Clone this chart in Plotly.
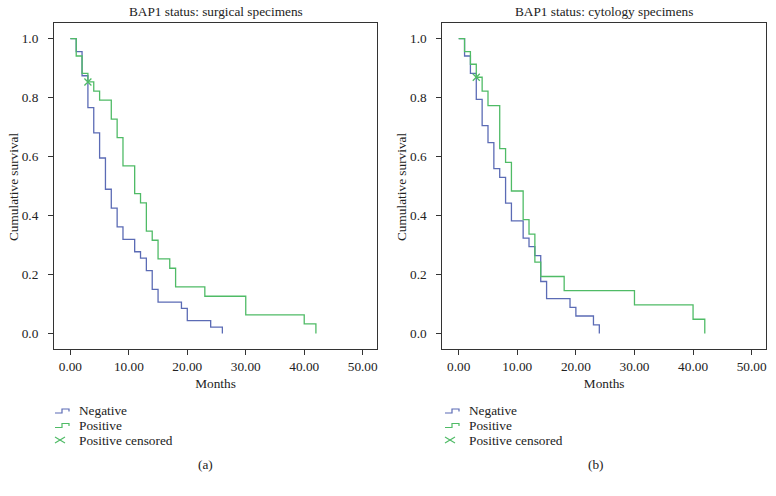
import plotly.graph_objects as go

# Panel (a): surgical specimens
a_neg_months = [0, 1, 2, 3, 4, 5, 6, 7, 8, 9, 11, 12, 13, 14, 15, 19, 20, 24, 26]
a_neg_surv = [1.0, 0.956, 0.874, 0.766, 0.680, 0.595, 0.489, 0.425, 0.361, 0.319,
              0.277, 0.255, 0.213, 0.149, 0.106, 0.085, 0.043, 0.021, 0.0]
a_pos_months = [0, 1, 2, 3, 4, 5, 7, 8, 9, 11, 12, 13, 14, 15, 17, 18, 23, 30, 40, 42]
a_pos_surv = [1.0, 0.941, 0.882, 0.853, 0.822, 0.791, 0.727, 0.664, 0.568, 0.474,
              0.443, 0.347, 0.316, 0.253, 0.221, 0.158, 0.126, 0.063, 0.032, 0.0]
a_cens_months = [3]
a_cens_surv = [0.853]

# Panel (b): cytology specimens
b_neg_months = [0, 1, 2, 3, 4, 5, 6, 7, 8, 9, 11, 12, 13, 14, 15, 19, 20, 23, 24]
b_neg_surv = [1.0, 0.941, 0.882, 0.794, 0.705, 0.647, 0.559, 0.529, 0.442, 0.382,
              0.323, 0.294, 0.264, 0.176, 0.118, 0.088, 0.059, 0.029, 0.0]
b_pos_months = [0, 1, 2, 3, 4, 5, 7, 8, 9, 11, 12, 13, 14, 18, 30, 40, 42]
b_pos_surv = [1.0, 0.956, 0.913, 0.869, 0.822, 0.773, 0.627, 0.580, 0.483, 0.386,
              0.337, 0.242, 0.193, 0.145, 0.097, 0.048, 0.0]
b_cens_months = [3]
b_cens_surv = [0.869]

x_ticks = [0, 10, 20, 30, 40, 50]
y_ticks = [0.0, 0.2, 0.4, 0.6, 0.8, 1.0]
titles = ["BAP1 status: surgical specimens", "BAP1 status: cytology specimens"]
panel_labels = ["(a)", "(b)"]
legend_names = ["Negative", "Positive", "Positive censored"]
y_title = "Cumulative survival"

BLUE = "#5b6bb5"
GREEN = "#4fbb66"
FONT = "Liberation Serif"
FS = 13.3
AX = "#333333"
TXT = "#222222"
W, H = 776, 496


def px(x):
    return x / W


def py(y):
    return 1 - y / H


fig = go.Figure()

panels = [
    (a_neg_months, a_neg_surv, a_pos_months, a_pos_surv, a_cens_months, a_cens_surv, "x", "y"),
    (b_neg_months, b_neg_surv, b_pos_months, b_pos_surv, b_cens_months, b_cens_surv, "x2", "y2"),
]
for nm, ns, pm, ps, cm, cs, xa, ya in panels:
    fig.add_trace(go.Scatter(x=nm, y=ns, mode="lines", line=dict(color=BLUE, width=1.3, shape="hv"),
                             name=legend_names[0], xaxis=xa, yaxis=ya, showlegend=False))
    fig.add_trace(go.Scatter(x=pm, y=ps, mode="lines", line=dict(color=GREEN, width=1.3, shape="hv"),
                             name=legend_names[1], xaxis=xa, yaxis=ya, showlegend=False))
    fig.add_trace(go.Scatter(x=cm, y=cs, mode="markers",
                             marker=dict(symbol="x-thin-open", size=7, color=GREEN,
                                         line=dict(color=GREEN, width=1.3)),
                             name=legend_names[2], xaxis=xa, yaxis=ya, showlegend=False))

xcommon = dict(range=[-2.8, 52.45], tickvals=x_ticks, tickformat=".2f", ticks="outside", ticklen=5,
               tickcolor=AX, showline=True, linecolor=AX, linewidth=1, mirror=True, showgrid=False,
               zeroline=False, automargin=False, tickfont=dict(family=FONT, size=FS, color=TXT),
               title=dict(text="Months", font=dict(family=FONT, size=FS, color=TXT), standoff=5))
ycommon = dict(range=[-0.054, 1.054], tickvals=y_ticks, tickformat=".1f", ticks="outside", ticklen=5,
               tickcolor=AX, showline=True, linecolor=AX, linewidth=1, mirror=True, showgrid=False,
               zeroline=False, automargin=False, tickfont=dict(family=FONT, size=FS, color=TXT),
               ticklabelstandoff=7)

fig.update_layout(
    width=W, height=H, margin=dict(l=0, r=0, t=0, b=0, autoexpand=False),
    paper_bgcolor="white", plot_bgcolor="white",
    font=dict(family=FONT, size=FS, color=TXT),
    xaxis=dict(domain=[px(54), px(377)], anchor="y", **xcommon),
    yaxis=dict(domain=[py(349.3), py(22.7)], anchor="x", **ycommon),
    xaxis2=dict(domain=[px(442.3), px(766)], anchor="y2", **xcommon),
    yaxis2=dict(domain=[py(349.3), py(22.7)], anchor="x2", **ycommon),
    showlegend=False,
)

# titles, y-axis titles and panel labels
for i, dx in enumerate([0, 388]):
    fig.add_annotation(text=titles[i], x=px(216 + dx), y=py(12), xref="paper", yref="paper",
                       showarrow=False, xanchor="center", yanchor="middle",
                       font=dict(family=FONT, size=FS, color=TXT))
    fig.add_annotation(text=y_title, x=px(14 + dx), y=py(187), xref="paper", yref="paper",
                       showarrow=False, xanchor="center", yanchor="middle", textangle=-90,
                       font=dict(family=FONT, size=FS, color=TXT))
    fig.add_annotation(text=panel_labels[i], x=px(205 + dx + (3 if i else 0)), y=py(464),
                       xref="paper", yref="paper", showarrow=False, xanchor="center", yanchor="middle",
                       font=dict(family=FONT, size=FS, color=TXT))

# manual legends (step glyphs, censor cross)
rows = [410.5, 425, 440]
for dx in [0, 390]:
    x0 = 55 + dx
    for r, (name, col) in enumerate(zip(legend_names[:2], [BLUE, GREEN])):
        yc = rows[r]
        path = (f"M{px(x0)},{py(yc + 2.5)} L{px(x0 + 7)},{py(yc + 2.5)} L{px(x0 + 7)},{py(yc - 1.5)} "
                f"L{px(x0 + 14)},{py(yc - 1.5)} L{px(x0 + 14)},{py(yc + 1)}")
        fig.add_shape(type="path", path=path, xref="paper", yref="paper",
                      line=dict(color=col, width=1.2))
    yc = rows[2]
    for (ya_, yb_) in [(yc - 3, yc + 3), (yc + 3, yc - 3)]:
        fig.add_shape(type="line", x0=px(x0), x1=px(x0 + 10), y0=py(ya_), y1=py(yb_),
                      xref="paper", yref="paper", line=dict(color=GREEN, width=1.1))
    for r, name in enumerate(legend_names):
        fig.add_annotation(text=name, x=px(x0 + 22), y=py(rows[r]), xref="paper", yref="paper",
                           showarrow=False, xanchor="left", yanchor="middle",
                           font=dict(family=FONT, size=FS, color=TXT))

fig.write_html("out.html", config={"displayModeBar": False},
               post_script="document.body.style.margin='0';document.body.style.overflow='hidden';")
